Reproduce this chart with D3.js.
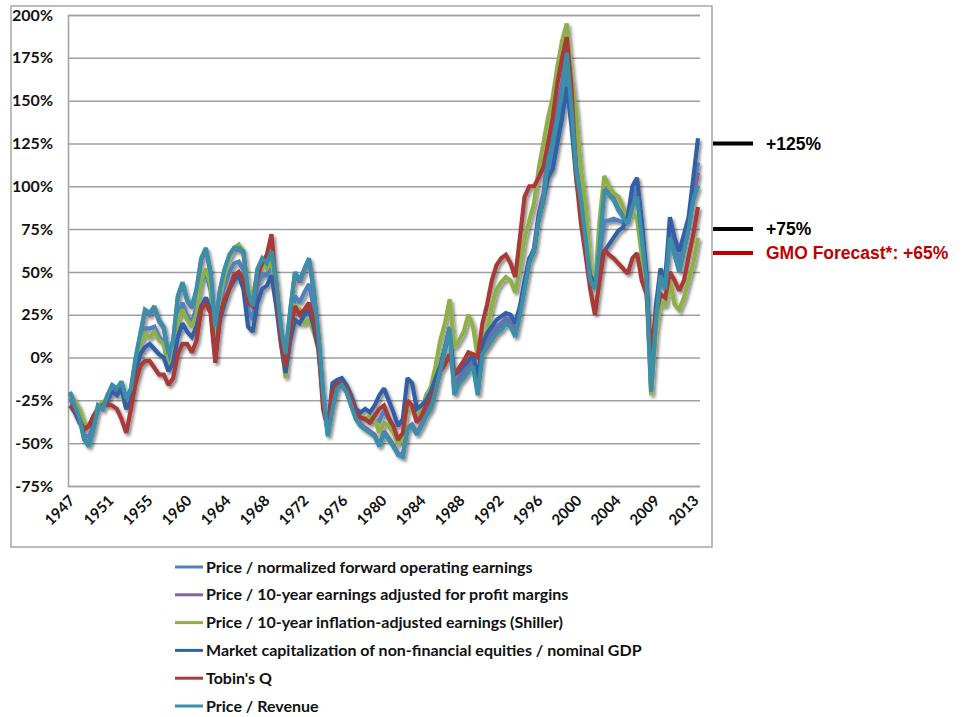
<!DOCTYPE html>
<html>
<head>
<meta charset="utf-8">
<script src="https://cdn.jsdelivr.net/npm/d3@7"></script>
<style>
  body { margin: 0; background: #fff; }
  svg { display: block; }
</style>
</head>
<body>
<div id="chart"></div>
<script>
// half-year samples, 1947.0 .. 2014.0
const startYear = 1947;
const step = 0.5;

const tickLabels = ["1947","1951","1955","1960","1964","1968","1972","1976","1980","1984","1988","1992","1996","2000","2004","2009","2013"];
const yTicks = [200, 175, 150, 125, 100, 75, 50, 25, 0, -25, -50, -75];

const seriesNames = [
  "Price / normalized forward operating earnings",
  "Price / 10-year earnings adjusted for profit margins",
  "Price / 10-year inflation-adjusted earnings (Shiller)",
  "Market capitalization of non-financial equities / nominal GDP",
  "Tobin's Q",
  "Price / Revenue"
];
const seriesColors = ["#4f81bd", "#8064a2", "#8eb04a", "#3360a6", "#a83a37", "#3a8fa9"];

const fwdEarnings = [
  -24,-30,-36,-45,-46,-40,-29,-29,-23,-18,-20,-16,-27,-21,-4,8,17,17,18,12,9,-3,4,24,32,24,21,29,44,50,39,4,31,42,50,55,56,51,28,22,42,49,48,55,37,13,-4,19,36,32,38,43,29,9,-22,-44,-22,-15,-14,-18,-25,-33,-36,-36,-38,-37,-37,-31,-36,-42,-48,-47,-27,-28,-37,-34,-30,-25,-16,-6,5,16,-16,-11,-8,-5,-1,-17,5,10,14,18,20,23,22,16,28,42,56,62,81,92,110,118,132,148,168,140,108,88,67,46,41,60,80,80,81,80,79,80,94,100,75,47,-16,25,50,42,76,65,56,67,78,98,114
];
const profitAdj = [
  -21,-28,-34,-47,-51,-41,-28,-30,-22,-17,-19,-15,-25,-19,-1,13,27,25,29,21,17,2,9,35,43,33,29,39,57,63,49,17,39,51,59,63,63,61,37,30,51,57,54,61,44,17,1,27,49,44,51,57,39,13,-21,-45,-29,-18,-16,-20,-28,-35,-39,-41,-43,-45,-51,-43,-47,-51,-56,-57,-41,-39,-44,-39,-33,-29,-19,-6,6,18,-20,-13,-10,-6,-3,-20,4,8,12,16,18,22,20,14,27,42,57,64,84,96,118,128,145,160,180,148,113,94,72,47,41,67,99,96,93,87,83,79,89,95,71,46,-19,21,48,40,71,60,51,63,76,93,108
];
const shiller = [
  -21,-25,-30,-38,-40,-35,-28,-26,-24,-20,-22,-20,-30,-24,-4,8,14,12,15,10,8,-8,0,22,28,22,18,25,45,52,42,10,35,48,58,64,66,62,40,36,50,55,52,56,38,10,-12,15,30,28,20,22,15,5,-22,-42,-22,-16,-15,-18,-25,-30,-34,-36,-34,-36,-44,-38,-40,-44,-50,-48,-28,-30,-36,-30,-22,-17,-5,10,20,34,6,10,15,25,18,0,12,16,30,40,44,47,45,38,52,70,80,90,110,125,140,152,170,185,195,165,143,110,90,55,41,80,106,100,96,94,88,82,85,81,60,40,-22,15,33,30,45,31,28,35,45,55,70
];
const mktCapGdp = [
  -28,-32,-38,-42,-40,-38,-30,-28,-25,-20,-22,-18,-30,-25,-8,2,6,8,5,2,0,-8,-3,12,20,15,12,18,30,35,28,0,22,32,40,45,48,40,18,15,32,40,42,48,30,8,-9,10,22,20,25,28,18,5,-25,-42,-15,-13,-12,-16,-22,-30,-32,-30,-32,-28,-22,-18,-25,-32,-40,-36,-12,-15,-30,-28,-25,-20,-12,-5,5,15,-10,-8,-5,-2,2,-12,8,14,18,22,24,26,25,20,30,45,58,62,82,92,105,110,125,140,158,135,105,85,65,48,42,55,62,66,70,74,76,82,100,105,80,50,-12,30,52,45,82,70,62,72,82,105,128
];
const tobinsQ = [
  -28,-30,-36,-42,-40,-34,-30,-28,-27,-28,-30,-36,-44,-30,-15,-5,-2,-2,-6,-10,-10,-16,-12,2,8,8,3,10,28,32,26,-3,25,34,40,48,50,45,32,30,48,55,60,72,40,10,-5,15,30,25,28,32,22,8,-30,-42,-20,-15,-15,-18,-24,-32,-35,-36,-38,-34,-30,-28,-35,-40,-48,-44,-25,-28,-38,-34,-28,-24,-18,-8,-4,2,-10,-6,-2,3,2,0,20,31,45,54,58,60,55,47,70,94,100,100,105,111,125,140,160,175,187,158,106,79,60,40,25,45,63,60,58,55,52,49,58,61,45,37,5,25,37,35,50,45,39,45,59,72,88
];
const priceRevenue = [
  -20,-28,-35,-48,-52,-42,-28,-30,-22,-16,-18,-14,-24,-18,0,14,28,26,30,22,18,2,10,36,44,34,30,40,58,64,50,18,40,52,60,64,64,62,38,30,52,58,55,62,45,18,2,28,50,45,52,58,40,14,-20,-46,-30,-18,-16,-20,-28,-36,-40,-42,-44,-46,-52,-44,-48,-52,-57,-58,-42,-40,-45,-40,-34,-30,-20,-8,5,17,-22,-15,-12,-8,-5,-22,2,6,10,14,16,20,18,12,25,40,55,62,80,92,115,125,140,155,178,145,110,92,70,45,40,65,98,95,92,86,82,78,88,94,70,45,-20,20,48,40,70,60,50,62,75,92,100
];

const allSeries = [fwdEarnings, profitAdj, shiller, mktCapGdp, tobinsQ, priceRevenue];

const markers = [
  { value: 125, text: "+125%", color: "#000" },
  { value: 75, text: "+75%", color: "#000" },
  { value: 61, text: "GMO Forecast*: +65%", color: "#c00000" }
];

const W = 970, H = 717;
const plot = { left: 68, right: 700, top: 15, bottom: 486 };

const svg = d3.select("#chart").append("svg")
  .attr("width", W)
  .attr("height", H);

const defs = svg.append("defs");
const shadow = defs.append("filter").attr("id", "shadow")
  .attr("x", "-5%").attr("y", "-5%").attr("width", "115%").attr("height", "115%");
shadow.append("feDropShadow")
  .attr("dx", 2).attr("dy", 2.5).attr("stdDeviation", 1.6)
  .attr("flood-color", "#000").attr("flood-opacity", 0.45);

// outer frame
svg.append("rect")
  .attr("x", 11).attr("y", 6)
  .attr("width", 701).attr("height", 541)
  .attr("fill", "#fff")
  .attr("stroke", "#a6a6a6")
  .attr("stroke-width", 1.5);

const nPts = fwdEarnings.length;
const x = d3.scaleLinear()
  .domain([startYear, startYear + (nPts - 1) * step])
  .range([plot.left + 2, plot.right - 2]);
const xLabels = d3.scalePoint().domain(tickLabels).range([plot.left, 692]);
const y = d3.scaleLinear().domain([-75, 200]).range([plot.bottom, plot.top]);

// gridlines + y labels
const yAxis = d3.axisLeft(y)
  .tickValues(yTicks)
  .tickSize(-(plot.right - plot.left))
  .tickPadding(15)
  .tickFormat(d => d + "%");

const gy = svg.append("g")
  .attr("transform", `translate(${plot.left},0)`)
  .call(yAxis);
gy.select(".domain").attr("stroke", "#a0a0a0").attr("stroke-width", 1.5);
gy.selectAll(".tick line").attr("stroke", "#a0a0a0").attr("stroke-width", 1.5);
gy.selectAll(".tick text")
  .attr("fill", "#111")
  .style("font-family", "Lato, 'Open Sans', sans-serif")
  .style("font-weight", 700)
  .style("font-size", "16px");

// x labels
svg.append("g").selectAll("text")
  .data(tickLabels)
  .join("text")
  .attr("transform", d => `translate(${xLabels(d) + 4},${plot.bottom + 12}) rotate(-45)`)
  .attr("text-anchor", "end")
  .attr("dy", "0.35em")
  .attr("fill", "#111")
  .style("font-family", "Lato, 'Open Sans', sans-serif")
  .style("font-weight", 700)
  .style("font-size", "15px")
  .text(d => d);

// series
const line = d3.line()
  .x((d, i) => x(startYear + i * step))
  .y(d => y(d));

const gLines = svg.append("g").attr("filter", "url(#shadow)");
allSeries.forEach((s, k) => {
  gLines.append("path")
    .datum(s)
    .attr("d", line)
    .attr("fill", "none")
    .attr("stroke", seriesColors[k])
    .attr("stroke-width", 4.2)
    .attr("stroke-linejoin", "miter")
    .attr("stroke-miterlimit", 2);
});

// zero line
svg.append("line")
  .attr("x1", plot.left + 2).attr("x2", plot.right)
  .attr("y1", y(0)).attr("y2", y(0))
  .attr("stroke", "#1d675f")
  .attr("stroke-width", 3.5)
  .attr("filter", "url(#shadow)");

// right-side markers
const gm = svg.append("g");
markers.forEach(m => {
  gm.append("line")
    .attr("x1", 713).attr("x2", 753)
    .attr("y1", y(m.value)).attr("y2", y(m.value))
    .attr("stroke", m.color)
    .attr("stroke-width", 4);
  gm.append("text")
    .attr("x", 766)
    .attr("y", y(m.value))
    .attr("dy", "0.35em")
    .attr("fill", m.color)
    .style("font-family", "'Liberation Sans', Arial, sans-serif")
    .style("font-weight", 700)
    .style("font-size", "17.5px")
    .text(m.text);
});

// legend
const legend = svg.append("g").attr("transform", "translate(175,567)");
seriesNames.forEach((name, k) => {
  const row = legend.append("g").attr("transform", `translate(0,${k * 27.8})`);
  row.append("line")
    .attr("x1", 0).attr("x2", 28)
    .attr("stroke", seriesColors[k])
    .attr("stroke-width", 3);
  row.append("text")
    .attr("x", 31)
    .attr("dy", "0.35em")
    .attr("fill", "#111")
    .style("font-family", "Lato, 'Open Sans', sans-serif")
    .style("font-weight", 700)
    .style("font-size", "16px")
    .text(name);
});
</script>
</body>
</html>
